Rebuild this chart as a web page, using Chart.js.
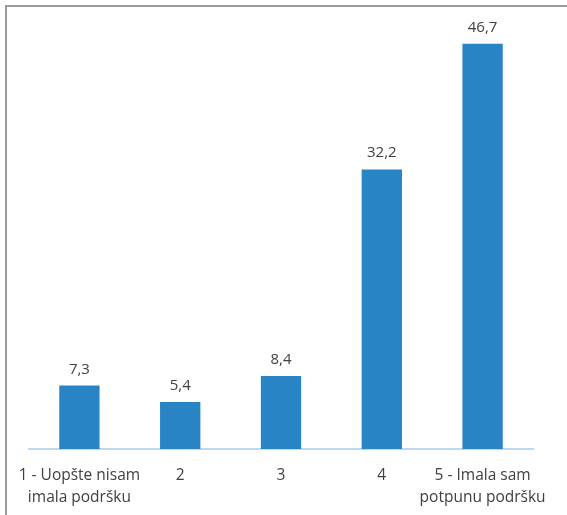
<!DOCTYPE html>
<html>
<head>
<meta charset="utf-8">
<script src="https://cdn.jsdelivr.net/npm/chart.js@4.4.0/dist/chart.umd.min.js"></script>
<style>
  html, body { margin: 0; padding: 0; background: #fff; overflow: hidden; }
  #wrap { position: relative; width: 567px; height: 515px; overflow: hidden; }
  #frame { position: absolute; left: 5px; top: 5px; width: 700px; height: 700px; border: 2px solid #9b9b9b; }
  #chart { position: absolute; left: 0; top: 0; }
</style>
</head>
<body>
<div id="wrap">
  <div id="frame"></div>
  <canvas id="chart" width="567" height="525"></canvas>
</div>
<script>
// podaci
const kategorije = [
  ['1 - Uopšte nisam', 'imala podršku'],
  '2',
  '3',
  '4',
  ['5 - Imala sam', 'potpunu podršku']
];
const procenti = [7.3, 5.4, 8.4, 32.2, 46.7];

const FONT = 'Open Sans';
const TEXT = '#404040';

// vrijednosti iznad stupaca
const valueLabels = {
  id: 'valueLabels',
  afterDatasetsDraw(chart) {
    const { ctx } = chart;
    const meta = chart.getDatasetMeta(0);
    ctx.save();
    ctx.font = '15px ' + FONT;
    ctx.fillStyle = TEXT;
    ctx.textAlign = 'center';
    ctx.textBaseline = 'alphabetic';
    meta.data.forEach((bar, i) => {
      const txt = procenti[i].toFixed(1).replace('.', ',');
      ctx.fillText(txt, bar.x, bar.y - 12);
    });
    ctx.restore();
  }
};

const ctx = document.getElementById('chart').getContext('2d');
new Chart(ctx, {
  type: 'bar',
  data: {
    labels: kategorije,
    datasets: [{
      data: procenti,
      backgroundColor: '#2884c4',
      borderWidth: 0,
      categoryPercentage: 1,
      barPercentage: 0.4
    }]
  },
  options: {
    responsive: false,
    animation: false,
    layout: { padding: { left: 27, right: 34, top: 15, bottom: 0 } },
    plugins: {
      legend: { display: false },
      tooltip: { enabled: false }
    },
    scales: {
      x: {
        grid: { display: false, drawTicks: false },
        border: { display: true, color: '#bdd7ee', width: 2 },
        ticks: {
          font: { family: FONT, size: 15.5, lineHeight: 1.42 },
          color: TEXT,
          padding: 16,
          maxRotation: 0,
          autoSkip: false
        }
      },
      y: {
        display: false,
        min: 0,
        max: 50
      }
    }
  },
  plugins: [valueLabels]
});
</script>
</body>
</html>
